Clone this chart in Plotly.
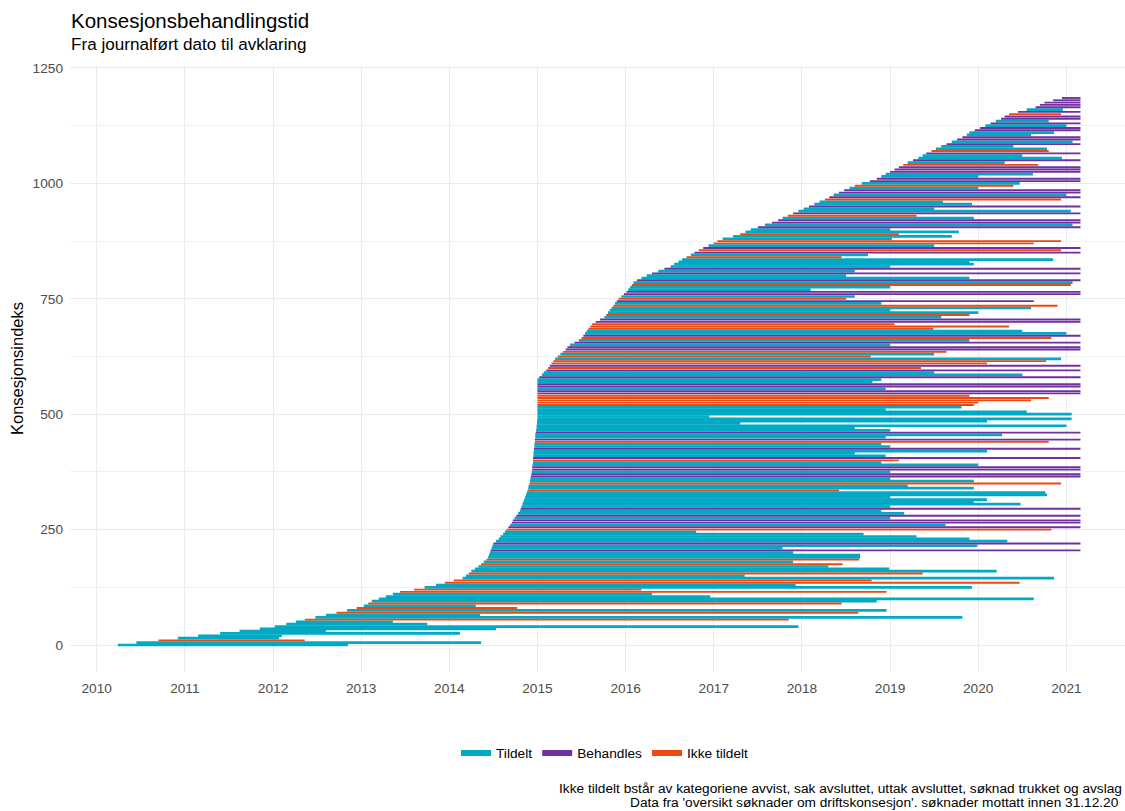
import plotly.graph_objects as go

# ---------------- data ----------------
# one row per ~5 cases, ordered by konsesjonsindeks
konsesjonsindeks = list(range(0, 1190, 5))

# journalført dato (decimal year)
journalfort = [
    2010.24, 2010.45, 2010.70, 2010.92, 2011.15, 2011.40, 2011.62, 2011.85, 2012.02, 2012.15,
    2012.26, 2012.36, 2012.48, 2012.60, 2012.72, 2012.84, 2012.95, 2013.03, 2013.08, 2013.12,
    2013.20, 2013.28, 2013.36, 2013.44, 2013.60, 2013.72, 2013.85, 2013.95, 2014.05, 2014.15,
    2014.19, 2014.22, 2014.25, 2014.29, 2014.33, 2014.36, 2014.39, 2014.42, 2014.44, 2014.45,
    2014.46, 2014.47, 2014.48, 2014.49, 2014.50, 2014.53, 2014.56, 2014.58, 2014.61, 2014.63,
    2014.65, 2014.67, 2014.69, 2014.71, 2014.72, 2014.74, 2014.76, 2014.78, 2014.80, 2014.81,
    2014.82, 2014.83, 2014.84, 2014.85, 2014.86, 2014.87, 2014.88, 2014.89, 2014.895, 2014.90,
    2014.91, 2014.915, 2014.92, 2014.925, 2014.93, 2014.935, 2014.94, 2014.94, 2014.945, 2014.95,
    2014.95, 2014.95, 2014.955, 2014.955, 2014.96, 2014.96, 2014.965, 2014.965, 2014.97, 2014.97,
    2014.975, 2014.975, 2014.98, 2014.985, 2014.99, 2014.99, 2014.995, 2014.995, 2015.00, 2015.00,
    2015.00, 2015.00, 2015.00, 2015.00, 2015.00, 2015.00, 2015.00, 2015.00, 2015.00, 2015.00,
    2015.00, 2015.00, 2015.00, 2015.00, 2015.00, 2015.00, 2015.02, 2015.05, 2015.07, 2015.10,
    2015.12, 2015.14, 2015.16, 2015.18, 2015.20, 2015.23, 2015.26, 2015.29, 2015.32, 2015.34,
    2015.37, 2015.42, 2015.47, 2015.50, 2015.52, 2015.54, 2015.56, 2015.58, 2015.60, 2015.62,
    2015.66, 2015.71, 2015.76, 2015.78, 2015.80, 2015.82, 2015.84, 2015.86, 2015.88, 2015.90,
    2015.92, 2015.95, 2015.98, 2016.01, 2016.03, 2016.05, 2016.07, 2016.09, 2016.13, 2016.18,
    2016.24, 2016.30, 2016.37, 2016.44, 2016.51, 2016.55, 2016.60, 2016.64, 2016.69, 2016.74,
    2016.78, 2016.83, 2016.88, 2016.94, 2017.00, 2017.04, 2017.10, 2017.22, 2017.30, 2017.36,
    2017.42, 2017.50, 2017.58, 2017.66, 2017.73, 2017.78, 2017.84, 2017.90, 2017.96, 2018.02,
    2018.08, 2018.14, 2018.20, 2018.26, 2018.31, 2018.36, 2018.42, 2018.48, 2018.54, 2018.60,
    2018.68, 2018.77, 2018.85, 2018.90, 2018.95, 2019.00, 2019.05, 2019.10, 2019.15, 2019.20,
    2019.26, 2019.32, 2019.37, 2019.41, 2019.47, 2019.52, 2019.58, 2019.64, 2019.70, 2019.76,
    2019.82, 2019.87, 2019.90, 2019.96, 2020.02, 2020.08, 2020.14, 2020.20, 2020.26, 2020.30,
    2020.35, 2020.45, 2020.55, 2020.65, 2020.70, 2020.75, 2020.85, 2020.95,
]

# avklaringsdato (decimal year; 2021.16 = still open)
avklart = [
    2012.85, 2014.36, 2012.36, 2012.07, 2012.10, 2014.12, 2012.60, 2014.53, 2017.96, 2013.75,
    2013.36, 2017.85, 2019.82, 2014.35, 2018.64, 2018.96, 2014.77, 2014.30, 2018.45, 2018.85,
    2020.63, 2016.96, 2016.30, 2018.96, 2016.18, 2019.93, 2017.93, 2020.47, 2018.79, 2020.86,
    2017.35, 2019.37, 2020.21, 2018.99, 2018.30, 2018.46, 2017.90, 2018.65, 2018.66, 2018.66,
    2017.90, 2021.16, 2017.78, 2019.99, 2021.16, 2020.33, 2019.90, 2019.30, 2018.70, 2016.80,
    2020.83, 2021.16, 2019.63, 2021.16, 2021.16, 2019.00, 2021.16, 2019.16, 2018.90, 2021.16,
    2019.00, 2020.48, 2019.95, 2020.10, 2019.00, 2020.78, 2020.76, 2018.42, 2019.95, 2019.20,
    2020.94, 2019.95, 2019.00, 2021.16, 2021.16, 2019.00, 2021.16, 2021.16, 2020.00, 2018.90,
    2019.10, 2021.16, 2018.95, 2018.60, 2020.10, 2021.16, 2019.00, 2018.90, 2020.80, 2021.16,
    2018.95, 2020.27, 2021.16, 2019.00, 2018.60, 2021.00, 2017.30, 2020.10, 2021.06, 2016.95,
    2021.06, 2020.55, 2018.95, 2019.81, 2019.95, 2020.00, 2020.60, 2020.80, 2019.90, 2021.16,
    2021.16, 2018.95, 2021.16, 2021.16, 2018.80, 2018.90, 2021.16, 2020.50, 2019.50, 2021.16,
    2019.35, 2021.16, 2020.10, 2020.77, 2020.94, 2018.78, 2019.50, 2019.64, 2021.16, 2021.16,
    2019.00, 2021.16, 2019.90, 2020.83, 2021.16, 2021.00, 2020.50, 2019.49, 2020.35, 2019.05,
    2021.16, 2021.16, 2019.58, 2019.90, 2020.00, 2019.00, 2020.60, 2020.90, 2018.90, 2020.63,
    2018.50, 2018.60, 2021.16, 2021.16, 2018.10, 2019.00, 2021.05, 2021.07, 2021.16, 2019.90,
    2018.50, 2021.16, 2018.60, 2021.16, 2019.00, 2019.95, 2019.90, 2020.85, 2018.45, 2018.75,
    2021.16, 2020.94, 2021.16, 2019.50, 2020.63, 2020.94, 2019.02, 2019.70, 2019.10, 2019.78,
    2019.00, 2021.16, 2021.07, 2021.16, 2021.16, 2019.95, 2019.30, 2021.16, 2021.05, 2019.50,
    2021.16, 2019.93, 2019.60, 2020.94, 2021.16, 2021.00, 2021.16, 2021.16, 2020.00, 2020.40,
    2020.47, 2021.16, 2021.16, 2020.00, 2020.62, 2021.16, 2021.16, 2021.16, 2020.68, 2020.30,
    2021.16, 2020.95, 2020.50, 2021.16, 2020.80, 2020.78, 2020.40, 2021.16, 2021.07, 2021.16,
    2021.16, 2020.60, 2020.86, 2021.16, 2021.16, 2021.00, 2021.16, 2020.80, 2021.16, 2021.16,
    2020.94, 2021.16, 2020.96, 2021.16, 2021.16, 2021.16, 2021.16, 2021.16,
]

# T = Tildelt, B = Behandles, I = Ikke tildelt
status = (
    "TTITTTTTTT" "TITTITITIT" "TTTIITTIIT" "TITTTITITT" "TBTTBTTTTT"
    "IBTBBTBTTB" "TTTTTTTITT" "ITTBBTBBTT" "IBTTTBTTIB" "TTBTTTTTTT"
    "TTTTIIIIIB" "BTBBTTBTTB" "IBIITITIBB" "TBTIBTTIII" "BBTITTTITB"
    "ITBBTTITBT" "TBTBTTTTIT" "BIBTIITTIT" "TBTBBTIBTT" "BTTIBTBBTI"
    "TBBTTBBBIT" "BTTBITTBTB" "BTTBBTBTBB" "IBTBBBBB"
)

kategorier = ["Tildelt", "Behandles", "Ikke tildelt"]
koder = ["T", "B", "I"]
farger = ["#00A9C4", "#7030A0", "#EE4811"]
linjebredde = [2.7, 1.9, 1.9]

aar = list(range(2010, 2022))
y_ticks = [0, 250, 500, 750, 1000, 1250]

tittel = "Konsesjonsbehandlingstid"
undertittel = "Fra journalført dato til avklaring"
y_tittel = "Konsesjonsindeks"
bildetekst_1 = "Ikke tildelt bstår av kategoriene avvist, sak avsluttet, uttak avsluttet, søknad trukket og avslag"
bildetekst_2 = "Data fra 'oversikt søknader om driftskonsesjon'. søknader mottatt innen 31.12.20"

# ---------------- figure ----------------
fig = go.Figure()
for navn, kode, farge, lw in zip(kategorier, koder, farger, linjebredde):
    xs, ys = [], []
    for i, s, e, k in zip(konsesjonsindeks, journalfort, avklart, status):
        if k == kode:
            xs += [s, e, None]
            ys += [i, i, None]
    fig.add_trace(go.Scatter(x=xs, y=ys, mode="lines",
                             line=dict(color=farge, width=lw),
                             showlegend=False, hoverinfo="skip"))

for navn, farge in zip(kategorier, farger):
    fig.add_trace(go.Scatter(x=[None], y=[None], mode="lines", name=navn,
                             line=dict(color=farge, width=6)))

FONT = "Liberation Sans, Arial, sans-serif"

W, H = 1125, 811
L, T, B = 70, 66, 139
PW, PH = W - L, H - T - B


def px_x(x):
    return (x - L) / PW


def px_y(y):
    return (H - B - y) / PH


fig.update_layout(
    width=W, height=H,
    margin=dict(l=L, r=0, t=T, b=B, autoexpand=False),
    plot_bgcolor="white", paper_bgcolor="white",
    font=dict(family=FONT, color="#4D4D4D", size=13.7),
    hovermode=False,
    xaxis=dict(range=[2009.697, 2021.665], tickvals=aar, ticktext=[str(a) for a in aar],
               showgrid=True, gridcolor="#EBEBEB", gridwidth=1, zeroline=False,
               showline=False, ticks="", ticklabelstandoff=6, automargin=False,
               showspikes=False, tickfont=dict(size=13.7, color="#4D4D4D")),
    yaxis=dict(range=[-58.5, 1254.3], tickvals=y_ticks, ticktext=[str(v) for v in y_ticks],
               showgrid=True, gridcolor="#EBEBEB", gridwidth=1, zeroline=False,
               showline=False, ticks="", ticklabelstandoff=6, automargin=False,
               showspikes=False, tickfont=dict(size=13.7, color="#4D4D4D"),
               minor=dict(tickvals=[125, 375, 625, 875, 1125], showgrid=True,
                          gridcolor="#F0F0F0", gridwidth=1)),
    legend=dict(orientation="h", xref="container", yref="container",
                x=605 / W, xanchor="center", y=1 - 753 / H, yanchor="middle",
                font=dict(size=13.7, color="#000000"), itemwidth=30,
                bgcolor="rgba(0,0,0,0)"),
    annotations=[
        dict(text=tittel, xref="paper", yref="paper", x=px_x(69), y=px_y(20),
             xanchor="left", yanchor="middle", showarrow=False,
             font=dict(size=20.5, color="#000000", family=FONT)),
        dict(text=undertittel, xref="paper", yref="paper", x=px_x(69), y=px_y(45),
             xanchor="left", yanchor="middle", showarrow=False,
             font=dict(size=17.1, color="#000000", family=FONT)),
        dict(text=y_tittel, xref="paper", yref="paper", x=px_x(17), y=0.5,
             xanchor="center", yanchor="middle", textangle=-90, showarrow=False,
             font=dict(size=16.5, color="#000000", family=FONT)),
        dict(text=bildetekst_1, xref="paper", yref="paper", x=px_x(1124), y=px_y(788),
             xanchor="right", yanchor="middle", showarrow=False,
             font=dict(size=13.7, color="#000000", family=FONT)),
        dict(text=bildetekst_2, xref="paper", yref="paper", x=px_x(1121), y=px_y(803),
             xanchor="right", yanchor="middle", showarrow=False,
             font=dict(size=13.7, color="#000000", family=FONT)),
    ],
)

# remove the browser's default 8px page margin so the figure fills the window exactly
fig.write_html("out.html",
               config={"displayModeBar": False, "staticPlot": True},
               post_script="document.body.style.margin='0';document.body.style.overflow='hidden';")
